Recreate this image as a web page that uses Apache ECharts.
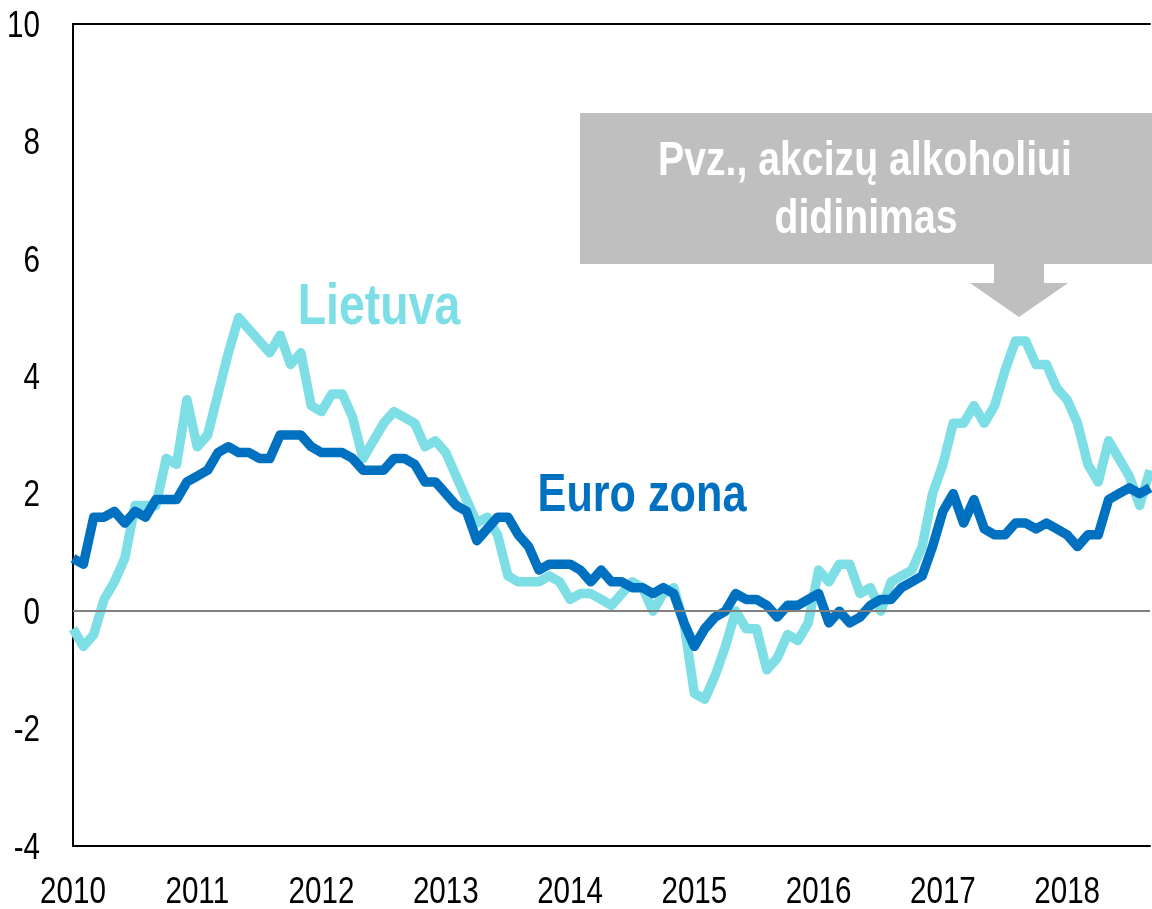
<!DOCTYPE html>
<html>
<head>
<meta charset="utf-8">
<script src="https://cdn.jsdelivr.net/npm/echarts@6/dist/echarts.min.js"></script>
<style>
html,body{margin:0;padding:0;background:#fff;overflow:hidden;}
#chart{width:1152px;height:909px;}
</style>
</head>
<body>
<div id="chart"></div>
<script>
// Tick labels (one per January)
const yearLabels = ['2010','2011','2012','2013','2014','2015','2016','2017','2018'];
const yTickLabels = ['10','8','6','4','2','0','-2','-4'];
// Monthly categories Jan 2010 .. Sep 2018
const monthsInLastYear = 9;
const categories = [];
yearLabels.forEach(function (y, yi) {
  const n = (yi === yearLabels.length - 1) ? monthsInLastYear : 12;
  for (let m = 1; m <= n; m++) categories.push(y + '-' + (m < 10 ? '0' + m : m));
});

// Lietuva – annual HICP change, %
const lietuva = [
  -0.3, -0.6, -0.4, 0.2, 0.5, 0.9, 1.8, 1.8, 1.8, 2.6, 2.5, 3.6,
  2.8, 3.0, 3.7, 4.4, 5.0, 4.8, 4.6, 4.4, 4.7, 4.2, 4.4, 3.5,
  3.4, 3.7, 3.7, 3.3, 2.6, 2.9, 3.2, 3.4, 3.3, 3.2, 2.8, 2.9,
  2.7, 2.3, 1.9, 1.5, 1.6, 1.3, 0.6, 0.5, 0.5, 0.5, 0.6, 0.5,
  0.2, 0.3, 0.3, 0.2, 0.1, 0.3, 0.5, 0.4, 0.0, 0.3, 0.4, -0.2,
  -1.4, -1.5, -1.1, -0.6, 0.0, -0.3, -0.3, -1.0, -0.8, -0.4, -0.5, -0.2,
  0.7, 0.5, 0.8, 0.8, 0.3, 0.4, 0.0, 0.5, 0.6, 0.7, 1.1, 2.0,
  2.5, 3.2, 3.2, 3.5, 3.2, 3.5, 4.1, 4.6, 4.6, 4.2, 4.2, 3.8,
  3.6, 3.2, 2.5, 2.2, 2.9, 2.6, 2.3, 1.8, 2.4
];

// Euro zona – annual HICP change, %
const euroZona = [
  0.9, 0.8, 1.6, 1.6, 1.7, 1.5, 1.7, 1.6, 1.9, 1.9, 1.9, 2.2,
  2.3, 2.4, 2.7, 2.8, 2.7, 2.7, 2.6, 2.6, 3.0, 3.0, 3.0, 2.8,
  2.7, 2.7, 2.7, 2.6, 2.4, 2.4, 2.4, 2.6, 2.6, 2.5, 2.2, 2.2,
  2.0, 1.8, 1.7, 1.2, 1.4, 1.6, 1.6, 1.3, 1.1, 0.7, 0.8, 0.8,
  0.8, 0.7, 0.5, 0.7, 0.5, 0.5, 0.4, 0.4, 0.3, 0.4, 0.3, -0.2,
  -0.6, -0.3, -0.1, 0.0, 0.3, 0.2, 0.2, 0.1, -0.1, 0.1, 0.1, 0.2,
  0.3, -0.2, 0.0, -0.2, -0.1, 0.1, 0.2, 0.2, 0.4, 0.5, 0.6, 1.1,
  1.7, 2.0, 1.5, 1.9, 1.4, 1.3, 1.3, 1.5, 1.5, 1.4, 1.5, 1.4,
  1.3, 1.1, 1.3, 1.3, 1.9, 2.0, 2.1, 2.0, 2.1
];

const yMin = -4, yMax = 10, yStep = 2;
const annotationLines = ['Pvz., akcizų alkoholiui', 'didinimas'];

const FONT = '"Liberation Sans", Arial, sans-serif';
const NARROW = 0.8; // narrow (condensed) type look
const CYAN = '#7DDFE5';
const BLUE = '#0070C0';
const GREY = '#BFBFBF';

const chart = echarts.init(document.getElementById('chart'), null, {renderer: 'canvas'});

const baseOption = {
  animation: false,
  backgroundColor: '#ffffff',
  grid: {left: 73, right: 2, top: 24, bottom: 63, containLabel: false},
  xAxis: [{
    type: 'category',
    data: categories,
    boundaryGap: false,
    position: 'bottom',
    axisLine: {show: true, onZero: false, lineStyle: {color: '#000', width: 2}},
    axisTick: {show: false},
    splitLine: {show: false},
    axisLabel: {show: false}
  }, {
    type: 'category',
    data: categories,
    boundaryGap: false,
    position: 'top',
    axisLine: {show: true, onZero: false, lineStyle: {color: '#000', width: 2}},
    axisTick: {show: false},
    axisLabel: {show: false},
    splitLine: {show: false}
  }],
  yAxis: {
    type: 'value',
    min: yMin, max: yMax, interval: yStep,
    axisLine: {show: true, onZero: false, lineStyle: {color: '#000', width: 2}},
    axisTick: {show: false},
    splitLine: {show: false},
    axisLabel: {show: false}
  },
  series: [{
    type: 'line',
    name: 'zero',
    data: [],
    z: 1,
    silent: true,
    markLine: {
      silent: true,
      symbol: 'none',
      label: {show: false},
      lineStyle: {color: '#808080', width: 2, type: 'solid'},
      data: [{yAxis: 0}]
    }
  }, {
    type: 'line',
    name: 'Lietuva',
    data: lietuva,
    z: 2,
    symbol: 'none',
    lineStyle: {color: CYAN, width: 9.5, join: 'round', cap: 'butt'}
  }, {
    type: 'line',
    name: 'Euro zona',
    data: euroZona,
    z: 3,
    symbol: 'none',
    lineStyle: {color: BLUE, width: 9.5, join: 'round', cap: 'butt'}
  }]
};
chart.setOption(baseOption);

function narrowText(x, y, text, font, fill, align) {
  return {
    type: 'text', x: x, y: y, scaleX: NARROW, z: 10, silent: true,
    style: {text: text, fill: fill, font: font, align: align || 'center', verticalAlign: 'middle'}
  };
}

const graphics = [
  {type: 'rect', z: 5, silent: true, shape: {x: 580, y: 113, width: 580, height: 151}, style: {fill: GREY}},
  {type: 'polygon', z: 5, silent: true,
   shape: {points: [[994, 263], [1044, 263], [1044, 283], [1068, 283], [1019, 317], [970, 283], [994, 283]]},
   style: {fill: GREY}},
  narrowText(865, 161, annotationLines[0], 'bold 49px ' + FONT, '#fff'),
  narrowText(866, 219, annotationLines[1], 'bold 49px ' + FONT, '#fff'),
  narrowText(379, 308, 'Lietuva', 'bold 58px ' + FONT, CYAN),
  narrowText(642, 496, 'Euro zona', 'bold 54px ' + FONT, BLUE)
];

// x tick labels at each January, positioned through the category axis
yearLabels.forEach(function (lab, k) {
  const px = chart.convertToPixel({xAxisIndex: 0}, categories[k * 12]);
  graphics.push(narrowText(px, 893, lab, '37px ' + FONT, '#000', 'center'));
});
// y tick labels positioned through the value axis
yTickLabels.forEach(function (lab) {
  const py = chart.convertToPixel({yAxisIndex: 0}, Number(lab));
  graphics.push(narrowText(40, py + 2.5, lab, '37px ' + FONT, '#000', 'right'));
});

chart.setOption({graphic: graphics});
</script>
</body>
</html>
